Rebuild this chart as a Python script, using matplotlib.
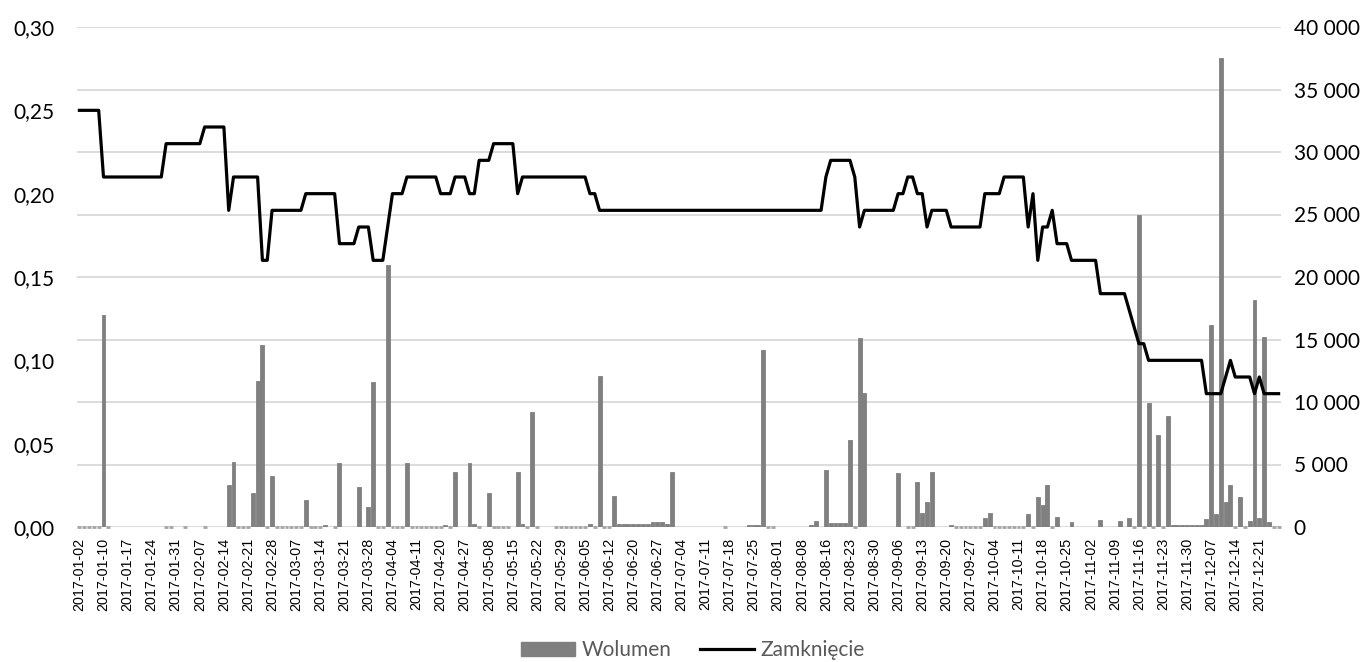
import matplotlib
matplotlib.use('Agg')
import matplotlib.pyplot as plt
import matplotlib.ticker as mticker
from matplotlib.patches import Patch
from matplotlib.lines import Line2D
import numpy as np
import pandas as pd

# GPW sessions in 2017: weekdays minus exchange holidays
holidays = ['2017-01-06', '2017-04-14', '2017-04-17', '2017-05-01', '2017-05-03',
            '2017-06-15', '2017-08-15', '2017-11-01', '2017-12-25', '2017-12-26']
sessions = pd.bdate_range('2017-01-02', '2017-12-29', freq='C', holidays=holidays)
dates = sessions.strftime('%Y-%m-%d').tolist()

# closing price (left axis), one value per session
close = [
    0.25, 0.25, 0.25, 0.25, 0.25, 0.21, 0.21, 0.21, 0.21, 0.21,
    0.21, 0.21, 0.21, 0.21, 0.21, 0.21, 0.21, 0.21, 0.23, 0.23,
    0.23, 0.23, 0.23, 0.23, 0.23, 0.23, 0.24, 0.24, 0.24, 0.24,
    0.24, 0.19, 0.21, 0.21, 0.21, 0.21, 0.21, 0.21, 0.16, 0.16,
    0.19, 0.19, 0.19, 0.19, 0.19, 0.19, 0.19, 0.20, 0.20, 0.20,
    0.20, 0.20, 0.20, 0.20, 0.17, 0.17, 0.17, 0.17, 0.18, 0.18,
    0.18, 0.16, 0.16, 0.16, 0.18, 0.20, 0.20, 0.20, 0.21, 0.21,
    0.21, 0.21, 0.21, 0.21, 0.21, 0.20, 0.20, 0.20, 0.21, 0.21,
    0.21, 0.20, 0.20, 0.22, 0.22, 0.22, 0.23, 0.23, 0.23, 0.23,
    0.23, 0.20, 0.21, 0.21, 0.21, 0.21, 0.21, 0.21, 0.21, 0.21,
    0.21, 0.21, 0.21, 0.21, 0.21, 0.21, 0.20, 0.20, 0.19, 0.19,
    0.19, 0.19, 0.19, 0.19, 0.19, 0.19, 0.19, 0.19, 0.19, 0.19,
    0.19, 0.19, 0.19, 0.19, 0.19, 0.19, 0.19, 0.19, 0.19, 0.19,
    0.19, 0.19, 0.19, 0.19, 0.19, 0.19, 0.19, 0.19, 0.19, 0.19,
    0.19, 0.19, 0.19, 0.19, 0.19, 0.19, 0.19, 0.19, 0.19, 0.19,
    0.19, 0.19, 0.19, 0.19, 0.19, 0.21, 0.22, 0.22, 0.22, 0.22,
    0.22, 0.21, 0.18, 0.19, 0.19, 0.19, 0.19, 0.19, 0.19, 0.19,
    0.20, 0.20, 0.21, 0.21, 0.20, 0.20, 0.18, 0.19, 0.19, 0.19,
    0.19, 0.18, 0.18, 0.18, 0.18, 0.18, 0.18, 0.18, 0.20, 0.20,
    0.20, 0.20, 0.21, 0.21, 0.21, 0.21, 0.21, 0.18, 0.20, 0.16,
    0.18, 0.18, 0.19, 0.17, 0.17, 0.17, 0.16, 0.16, 0.16, 0.16,
    0.16, 0.16, 0.14, 0.14, 0.14, 0.14, 0.14, 0.14, 0.13, 0.12,
    0.11, 0.11, 0.10, 0.10, 0.10, 0.10, 0.10, 0.10, 0.10, 0.10,
    0.10, 0.10, 0.10, 0.10, 0.08, 0.08, 0.08, 0.08, 0.09, 0.10,
    0.09, 0.09, 0.09, 0.09, 0.08, 0.09, 0.08, 0.08, 0.08, 0.08,
]

# volume (right axis); None = no bar, 0 = session without turnover
N = None
volume = [
    0, 0, 0, 0, 0, 17000, 0, N, N, N,
    N, N, N, N, N, N, N, N, 0, 0,
    N, N, 0, N, N, N, 0, N, N, N,
    N, 3400, 5200, 0, 0, 0, 2700, 11700, 14600, 0,
    4100, 0, 0, 0, 0, 0, 0, 2150, 0, 0,
    0, 200, N, 0, 5100, N, N, N, 3200, N,
    1600, 11600, 0, 0, 21000, 0, 0, 0, 5150, 0,
    0, 0, 0, 0, 0, 0, 200, 0, 4400, N,
    N, 5150, 250, 0, N, 2700, 0, 0, 0, 0,
    N, 4400, 250, 0, 9200, 0, N, N, N, 0,
    0, 0, 0, 0, 0, 0, 250, 0, 12100, 0,
    0, 2500, 250, 250, 250, 250, 250, 250, 250, 370,
    370, 370, 250, 4400, N, N, N, N, N, N,
    N, N, N, N, 0, N, N, N, N, 200,
    200, 200, 14200, 0, 0, N, N, N, N, N,
    N, N, 150, 500, N, 4600, 300, 300, 300, 300,
    7000, 0, 15100, 10700, N, N, N, N, N, N,
    4300, N, 0, 0, 3600, 1150, 2000, 4400, N, N,
    N, 200, 0, 0, 0, 0, 0, 0, 700, 1100,
    0, 0, 0, 0, 0, 0, 0, 1050, 0, 2400,
    1750, 3400, 0, 800, N, N, 370, N, N, N,
    N, N, 600, N, N, N, 450, N, 700, 0,
    25000, 0, 9900, 0, 7400, 0, 8900, 150, 150, 150,
    150, 150, 150, 150, 640, 16200, 1050, 37500, 2000, 3400,
    0, 2400, 0, 480, 18200, 700, 15200, 430, 0, 0,
]

plt.rcParams['font.family'] = ['Lato', 'DejaVu Sans']

x = np.arange(len(dates))
vol = np.array([np.nan if v is None else v for v in volume], dtype=float)
traded = vol > 0
flat = vol == 0

W, H = 1372, 662
fig = plt.figure(figsize=(W / 100, H / 100), dpi=100)
ax = fig.add_axes([77 / W, 1 - 527 / H, 1204 / W, 500 / H])

bar_color = '#808080'
ax.bar(x[traded], vol[traded], width=0.82, color=bar_color,
       edgecolor=bar_color, linewidth=0.6, zorder=2)
# zero-volume sessions show up as short light dashes on the baseline
ax.bar(x[flat], vol[flat], width=0.8, color='#a6a6a6',
       edgecolor='#a6a6a6', linewidth=2.0, zorder=2, clip_on=False)

ax.set_xlim(-0.5, len(dates) - 0.5)
ax.set_ylim(0, 40000)
ax.set_yticks(np.arange(0, 40001, 5000))
ax.yaxis.set_major_formatter(mticker.FuncFormatter(lambda v, _: f'{v:,.0f}'.replace(',', ' ')))
ax.grid(axis='y', color='#d9d9d9', linewidth=1.3)
ax.set_axisbelow(True)
ax.set_xticks(x[::5])
ax.set_xticklabels(dates[::5], rotation=90, fontsize=10.3, family='Liberation Sans')

ax2 = ax.twinx()
ax2.plot(x, close, color='black', linewidth=2.3, solid_joinstyle='round', zorder=3)
ax2.set_ylim(0, 0.30)
ax2.set_yticks(np.arange(0, 0.301, 0.05))
ax2.yaxis.set_major_formatter(mticker.FuncFormatter(lambda v, _: f'{v:.2f}'.replace('.', ',')))

ax.yaxis.tick_right()
ax2.yaxis.tick_left()
ax.tick_params(axis='x', length=0, pad=8, colors='#000000')
ax.tick_params(axis='y', length=0, pad=9, labelsize=15, colors='#000000')
ax2.tick_params(axis='y', length=0, pad=16, labelsize=15, colors='#000000')
for a in (ax, ax2):
    for s in a.spines.values():
        s.set_visible(False)

handles = [Patch(facecolor=bar_color, edgecolor=bar_color),
           Line2D([], [], color='black', linewidth=2.3)]
fig.legend(handles, ['Wolumen', 'Zamknięcie'], loc='center', ncol=2,
           bbox_to_anchor=(0.505, 0.018), frameon=False, fontsize=15,
           labelcolor='#595959', handlelength=2.6, handletextpad=0.3,
           columnspacing=1.4)

fig.savefig('out.png', dpi=100)
